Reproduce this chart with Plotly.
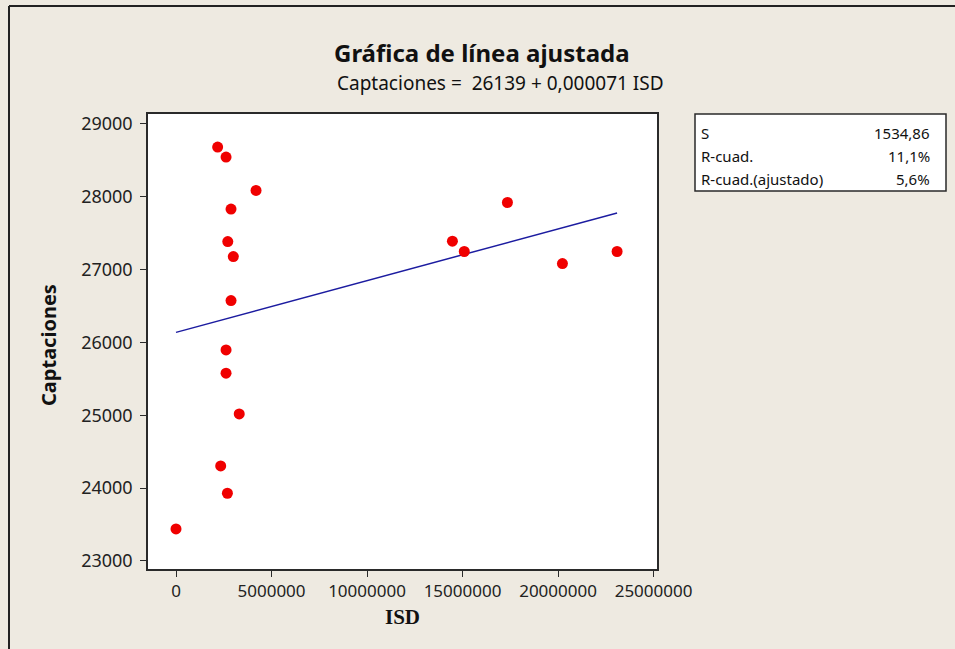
import plotly.graph_objects as go

# Data
isd = [0, 2690000, 2340000, 3310000, 2620000, 2620000, 2880000, 3000000, 2710000,
       2880000, 4190000, 2620000, 2180000, 14470000, 15090000, 17350000, 20230000, 23090000]
captaciones = [23440, 23930, 24305, 25019, 25578, 25898, 26576, 27180, 27386,
               27831, 28087, 28545, 28683, 27391, 27249, 27922, 27084, 27249]

intercept = 26139
slope = 0.000071

stats_labels = ["S", "R-cuad.", "R-cuad.(ajustado)"]
stats_values = ["1534,86", "11,1%", "5,6%"]

x_ticks = [0, 5000000, 10000000, 15000000, 20000000, 25000000]
y_ticks = [23000, 24000, 25000, 26000, 27000, 28000, 29000]

FONT = "Noto Sans"
BG = "#EEEAE1"
DARK = "#2a2a2a"

x_fit = [min(isd), max(isd)]
y_fit = [intercept + slope * v for v in x_fit]

fig = go.Figure()
fig.add_trace(go.Scatter(x=x_fit, y=y_fit, mode="lines",
                         line=dict(color="#1c1ca0", width=1.5),
                         hoverinfo="skip", showlegend=False))
fig.add_trace(go.Scatter(x=isd, y=captaciones, mode="markers",
                         marker=dict(color="#f00000", size=11, line=dict(width=0)),
                         showlegend=False))

axis_common = dict(showline=True, mirror=True, linecolor=DARK, linewidth=1.5,
                   ticks="outside", ticklen=6, tickcolor=DARK, tickwidth=1.2,
                   showgrid=False, zeroline=False)

fig.update_xaxes(range=[-1466000, 25180000], tickvals=x_ticks,
                 ticktext=[str(v) for v in x_ticks],
                 tickfont=dict(family=FONT, size=17, color="#222"), **axis_common)
fig.update_yaxes(range=[22890, 29137], tickvals=y_ticks,
                 ticktext=[str(v) for v in y_ticks], ticklabelstandoff=4,
                 tickfont=dict(family=FONT, size=18, color="#222"), **axis_common)

def px_x(px):
    return (px - 148) / 509.0

def px_y(py):
    return (569 - py) / 455.0

annotations = [
    dict(text="<b>Gráfica de línea ajustada</b>", x=px_x(482), y=px_y(52),
         font=dict(family=FONT, size=24, color="#111")),
    dict(text="Captaciones =  26139 + 0,000071 ISD", x=px_x(500), y=px_y(83),
         font=dict(family=FONT, size=19, color="#111")),
    dict(text="<b>Captaciones</b>", x=px_x(48), y=px_y(345), textangle=-90,
         font=dict(family=FONT, size=20, color="#111")),
    dict(text="<b>ISD</b>", x=px_x(402), y=px_y(617),
         font=dict(family="Liberation Serif", size=21, color="#111")),
]
row_y = [133, 156, 179]
for lab, val, ry in zip(stats_labels, stats_values, row_y):
    annotations.append(dict(text=lab, x=px_x(699), y=px_y(ry), xanchor="left",
                            font=dict(family=FONT, size=15, color="#111")))
    annotations.append(dict(text=val, x=px_x(932), y=px_y(ry), xanchor="right",
                            font=dict(family=FONT, size=15, color="#111")))
for a in annotations:
    a.update(xref="paper", yref="paper", showarrow=False)
    a.setdefault("xanchor", "center")
    a.setdefault("yanchor", "middle")

shapes = [
    dict(type="rect", xref="paper", yref="paper", x0=px_x(695), x1=px_x(946),
         y0=px_y(191), y1=px_y(114), line=dict(color=DARK, width=1.5), fillcolor="white",
         layer="below"),
    dict(type="line", xref="paper", yref="paper", x0=px_x(9), x1=px_x(960),
         y0=px_y(6), y1=px_y(6), line=dict(color="#222", width=2)),
    dict(type="line", xref="paper", yref="paper", x0=px_x(9), x1=px_x(9),
         y0=px_y(6), y1=px_y(660), line=dict(color="#222", width=2)),
]

fig.update_layout(width=955, height=649, autosize=False,
                  margin=dict(l=148, r=298, t=114, b=80, pad=0),
                  paper_bgcolor=BG, plot_bgcolor="white",
                  annotations=annotations, shapes=shapes,
                  font=dict(family=FONT))

fig.write_html("out.html", config={"displayModeBar": False})
